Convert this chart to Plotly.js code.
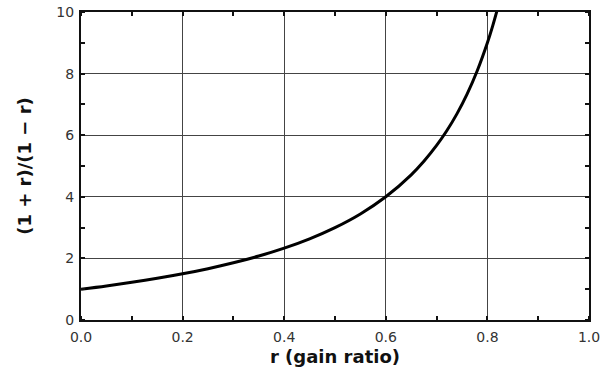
<!DOCTYPE html>
<html><head><meta charset="utf-8">
<script src="https://cdn.plot.ly/plotly-3.0.1.min.js"></script>
<style>html,body{margin:0;padding:0;background:#fff}#c{width:612px;height:372px}</style>
</head><body><div id="c"></div>
<script>
const gainRatio = [0, 0.05, 0.1, 0.15, 0.2, 0.25, 0.3, 0.35, 0.4, 0.45, 0.5, 0.55, 0.6, 0.65, 0.675, 0.7, 0.72, 0.74, 0.76, 0.78, 0.8, 0.81, 0.82];
const ratioValue = [1, 1.105, 1.222, 1.353, 1.5, 1.667, 1.857, 2.077, 2.333, 2.636, 3, 3.444, 4, 4.714, 5.154, 5.667, 6.143, 6.692, 7.333, 8.091, 9, 9.526, 10.111];
const xTickVals = [0, 0.2, 0.4, 0.6, 0.8, 1.0];
const xTickText = ['0.0', '0.2', '0.4', '0.6', '0.8', '1.0'];
const yTickVals = [0, 2, 4, 6, 8, 10];
const xTitle = 'r (gain ratio)';
const yTitle = '(1 + r)/(1 − r)';

const font = 'DejaVu Sans, Verdana, sans-serif';
Plotly.newPlot('c', [{
  x: gainRatio, y: ratioValue, mode: 'lines', type: 'scatter',
  line: {color: '#000', width: 3, shape: 'spline'}, cliponaxis: true, hoverinfo: 'skip'
}], {
  width: 612, height: 372,
  margin: {l: 81, r: 23, t: 12, b: 52},
  paper_bgcolor: '#fff', plot_bgcolor: '#fff',
  showlegend: false,
  xaxis: {
    range: [0, 1], tickvals: xTickVals, ticktext: xTickText,
    showgrid: true, gridcolor: '#444', gridwidth: 1,
    zeroline: false, showline: true, linecolor: '#111', linewidth: 2, mirror: 'allticks',
    ticks: '', ticklabelstandoff: 3, tickfont: {family: font, size: 14, color: '#333'},
    minor: {dtick: 0.1, tick0: 0, ticks: 'inside', ticklen: 4, tickwidth: 2, tickcolor: '#111', showgrid: false},
    title: {text: xTitle, font: {family: font, size: 18, color: '#111', weight: 'bold'}, standoff: 7}
  },
  yaxis: {
    range: [0, 10], tickvals: yTickVals,
    showgrid: true, gridcolor: '#444', gridwidth: 1,
    zeroline: false, showline: true, linecolor: '#111', linewidth: 2, mirror: 'allticks',
    ticks: '', ticklabelstandoff: 2, tickfont: {family: font, size: 14, color: '#333'},
    minor: {dtick: 1, tick0: 0, ticks: 'inside', ticklen: 4, tickwidth: 2, tickcolor: '#111', showgrid: false},
    title: {text: yTitle, font: {family: font, size: 18, color: '#111', weight: 'bold'}, standoff: 20}
  }
}, {displayModeBar: false, staticPlot: true});
</script></body></html>
